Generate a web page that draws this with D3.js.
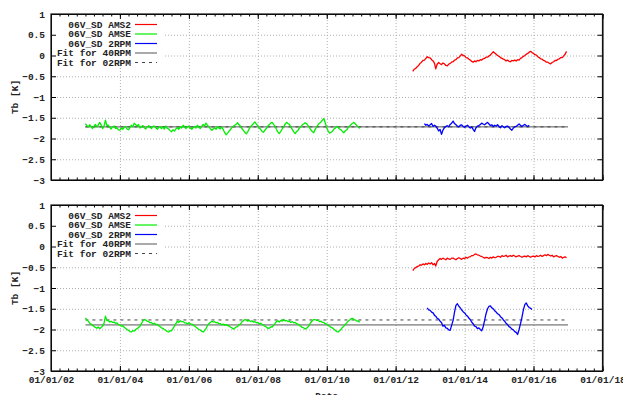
<!DOCTYPE html>
<html>
<head>
<meta charset="utf-8">
<script src="https://cdn.jsdelivr.net/npm/d3@7"></script>
<style>
  body { margin: 0; background: #fff; }
  text { font-family: "Liberation Mono", "DejaVu Sans Mono", monospace; font-weight: bold; }
</style>
</head>
<body>
<div id="chart"></div>
<script>
// tick values and labels
var yTickValues = [1, 0.5, 0, -0.5, -1, -1.5, -2, -2.5, -3];
var xTickYears = [2002, 2004, 2006, 2008, 2010, 2012, 2014, 2016, 2018];
var legendNames = ["06V_SD AMS2", "06V_SD AMSE", "06V_SD 2RPM", "Fit for 40RPM", "Fit for 02RPM"];

// two values per month (1st and 16th), first month given by the start strings
var amseStart = "2003-01-01";
var ams2Start = "2012-07-01";
var rpmStartTop = "2012-11-01";
var rpmStartBottom = "2012-12-01";

var amseTop = [
  -1.64, -1.69, -1.72, -1.67, -1.71, -1.76, -1.70, -1.66, -1.72, -1.68, -1.61, -1.67,
  -1.76, -1.71, -1.56, -1.69, -1.68, -1.73, -1.77, -1.72, -1.70, -1.76, -1.74, -1.79,
  -1.80, -1.75, -1.78, -1.73, -1.71, -1.77, -1.79, -1.74, -1.68, -1.72, -1.63, -1.67,
  -1.70, -1.66, -1.75, -1.71, -1.69, -1.74, -1.77, -1.72, -1.69, -1.73, -1.76, -1.71,
  -1.70, -1.74, -1.78, -1.73, -1.71, -1.76, -1.73, -1.77, -1.70, -1.75, -1.77, -1.81,
  -1.84, -1.79, -1.82, -1.77, -1.74, -1.78, -1.71, -1.75, -1.68, -1.72, -1.76, -1.72,
  -1.70, -1.75, -1.78, -1.73, -1.71, -1.75, -1.68, -1.72, -1.76, -1.71, -1.66, -1.70,
  -1.63, -1.68, -1.72, -1.76, -1.80, -1.77, -1.74, -1.78, -1.71, -1.75, -1.77, -1.72,
  -1.79, -1.86, -1.91, -1.87, -1.83, -1.79, -1.74, -1.71, -1.68, -1.66, -1.62, -1.67,
  -1.70, -1.76, -1.80, -1.85, -1.89, -1.84, -1.77, -1.72, -1.68, -1.64, -1.60, -1.65,
  -1.69, -1.75, -1.78, -1.83, -1.85, -1.80, -1.76, -1.70, -1.67, -1.63, -1.61, -1.66,
  -1.70, -1.78, -1.84, -1.88, -1.83, -1.77, -1.72, -1.66, -1.61, -1.64, -1.66, -1.72,
  -1.78, -1.84, -1.88, -1.83, -1.81, -1.75, -1.72, -1.67, -1.65, -1.62, -1.64, -1.69,
  -1.74, -1.79, -1.83, -1.86, -1.78, -1.72, -1.67, -1.63, -1.60, -1.56, -1.52, -1.62,
  -1.74, -1.82, -1.87, -1.85, -1.83, -1.78, -1.75, -1.71, -1.73, -1.77, -1.79, -1.83,
  -1.86, -1.82, -1.79, -1.74, -1.70, -1.66, -1.64, -1.61, -1.65, -1.69, -1.72, -1.76
];
var ams2Top = [
  -0.38, -0.33, -0.31, -0.27, -0.24, -0.19, -0.16, -0.12, -0.11, -0.07, -0.03, -0.05,
  -0.06, -0.10, -0.13, -0.19, -0.32, -0.21, -0.17, -0.20, -0.22, -0.18, -0.20, -0.24,
  -0.25, -0.21, -0.19, -0.16, -0.15, -0.11, -0.10, -0.06, -0.05, -0.01, 0.03, 0.00,
  -0.01, -0.05, -0.06, -0.09, -0.11, -0.14, -0.16, -0.13, -0.15, -0.12, -0.13, -0.10,
  -0.11, -0.08, -0.07, -0.04, -0.04, -0.01, 0.01, 0.05, 0.09, 0.06, 0.03, 0.00,
  -0.02, -0.05, -0.07, -0.09, -0.10, -0.13, -0.11, -0.14, -0.15, -0.12, -0.13, -0.11,
  -0.13, -0.10, -0.11, -0.07, -0.05, -0.02, 0.00, 0.03, 0.05, 0.08, 0.10, 0.07,
  0.05, 0.02, 0.01, -0.03, -0.05, -0.08, -0.09, -0.12, -0.13, -0.16, -0.16, -0.19,
  -0.20, -0.17, -0.15, -0.12, -0.12, -0.09, -0.08, -0.05, -0.05, -0.01, 0.03, 0.10
];
var rpmTop = [
  -1.64, -1.68, -1.66, -1.70,
  -1.67, -1.64, -1.71, -1.68, -1.70, -1.75, -1.82, -1.78, -1.90, -1.80, -1.74, -1.71,
  -1.69, -1.72, -1.66, -1.63, -1.58, -1.64, -1.67, -1.70, -1.72, -1.68, -1.67, -1.71,
  -1.73, -1.70, -1.68, -1.72, -1.75, -1.72, -1.78, -1.83, -1.74, -1.70, -1.69, -1.66,
  -1.63, -1.65, -1.67, -1.64, -1.61, -1.65, -1.69, -1.67, -1.71, -1.68, -1.70, -1.67,
  -1.71, -1.74, -1.69, -1.72, -1.74, -1.71, -1.70, -1.73, -1.77, -1.80, -1.75, -1.72,
  -1.71, -1.68, -1.65, -1.68, -1.71, -1.68, -1.66, -1.69, -1.71, -1.68
];

var amseBottom = [
  -1.72, -1.77, -1.80, -1.85, -1.87, -1.90, -1.92, -1.95, -1.97, -1.94, -1.98, -1.95,
  -1.92, -1.86, -1.68, -1.78, -1.79, -1.82, -1.80, -1.83, -1.82, -1.85, -1.84, -1.88,
  -1.89, -1.92, -1.91, -1.95, -1.97, -2.00, -2.02, -2.05, -2.06, -2.03, -2.04, -2.00,
  -1.98, -1.95, -1.92, -1.86, -1.79, -1.76, -1.77, -1.80, -1.81, -1.84, -1.83, -1.87,
  -1.85, -1.88, -1.88, -1.91, -1.93, -1.96, -1.97, -2.00, -2.02, -2.05, -2.06, -2.03,
  -2.03, -1.98, -1.92, -1.86, -1.80, -1.83, -1.79, -1.81, -1.81, -1.84, -1.84, -1.87,
  -1.84, -1.87, -1.87, -1.90, -1.91, -1.94, -1.97, -2.00, -2.01, -2.04, -2.06, -2.03,
  -1.98, -1.91, -1.86, -1.83, -1.80, -1.82, -1.81, -1.84, -1.83, -1.86, -1.86, -1.89,
  -1.87, -1.90, -1.88, -1.91, -1.91, -1.94, -1.96, -1.99, -1.97, -1.94, -1.93, -1.89,
  -1.87, -1.82, -1.79, -1.76, -1.77, -1.80, -1.78, -1.81, -1.79, -1.82, -1.81, -1.84,
  -1.83, -1.86, -1.85, -1.88, -1.89, -1.92, -1.94, -1.97, -1.97, -1.94, -1.94, -1.90,
  -1.86, -1.81, -1.79, -1.82, -1.78, -1.80, -1.76, -1.79, -1.78, -1.81, -1.80, -1.83,
  -1.81, -1.84, -1.83, -1.86, -1.87, -1.90, -1.92, -1.95, -1.96, -1.99, -1.97, -1.94,
  -1.89, -1.83, -1.79, -1.76, -1.76, -1.78, -1.78, -1.81, -1.80, -1.83, -1.83, -1.86,
  -1.87, -1.90, -1.92, -1.95, -1.96, -1.99, -2.02, -2.05, -2.06, -2.03, -2.00, -1.95,
  -1.92, -1.88, -1.84, -1.80, -1.77, -1.74, -1.73, -1.76, -1.77, -1.80, -1.79, -1.83
];
var ams2Bottom = [
  -0.58, -0.53, -0.51, -0.48, -0.47, -0.44, -0.45, -0.42, -0.44, -0.41, -0.43, -0.40,
  -0.42, -0.39, -0.44, -0.41, -0.47, -0.36, -0.32, -0.29, -0.31, -0.28, -0.30, -0.32,
  -0.28, -0.30, -0.31, -0.28, -0.28, -0.30, -0.32, -0.29, -0.27, -0.29, -0.31, -0.28,
  -0.29, -0.26, -0.28, -0.25, -0.25, -0.22, -0.22, -0.19, -0.18, -0.20, -0.21, -0.23,
  -0.24, -0.26, -0.28, -0.26, -0.27, -0.29, -0.26, -0.28, -0.25, -0.27, -0.26, -0.24,
  -0.24, -0.26, -0.22, -0.24, -0.23, -0.21, -0.25, -0.23, -0.22, -0.24, -0.21, -0.23,
  -0.25, -0.23, -0.22, -0.24, -0.26, -0.24, -0.23, -0.25, -0.22, -0.24, -0.26, -0.24,
  -0.23, -0.25, -0.22, -0.24, -0.23, -0.21, -0.24, -0.22, -0.20, -0.22, -0.19, -0.21,
  -0.23, -0.21, -0.25, -0.23, -0.22, -0.24, -0.26, -0.24, -0.28, -0.26, -0.25, -0.27
];
var rpmBottom = [
  -1.48, -1.53,
  -1.54, -1.58, -1.60, -1.66, -1.68, -1.73, -1.75, -1.80, -1.83, -1.92, -1.90, -1.96,
  -1.97, -2.01, -2.02, -1.90, -1.78, -1.58, -1.42, -1.38, -1.44, -1.48, -1.53, -1.57,
  -1.60, -1.65, -1.68, -1.73, -1.76, -1.82, -1.86, -1.92, -1.93, -1.98, -1.96, -2.00,
  -2.03, -1.94, -1.78, -1.62, -1.50, -1.44, -1.43, -1.48, -1.50, -1.55, -1.58, -1.62,
  -1.64, -1.69, -1.72, -1.77, -1.80, -1.85, -1.88, -1.93, -1.95, -1.99, -2.01, -2.05,
  -2.07, -2.12, -2.00, -1.86, -1.70, -1.52, -1.40, -1.36, -1.43, -1.47, -1.49, -1.52
];

// fit levels: [40RPM, 02RPM]
var fitTop = [-1.72, -1.72];
var fitBottom = [-1.89, -1.77];
var fitRange = ["2003-01-01", "2017-01-01"];

var w = 623, h = 395;
var left = 51, right = 602.5;
var seriesColors = ["#ff0000", "#00ee00", "#0000ff", "#555555", "#444444"];

var parse = d3.timeParse("%Y-%m-%d");

function semiMonthly(start, values) {
  var d0 = parse(start);
  return values.map(function (v, i) {
    var d = d3.timeMonth.offset(d0, Math.floor(i / 2));
    if (i % 2) d = d3.timeDay.offset(d, 15);
    return [d, v];
  });
}

var panels = [
  { top: 14, bottom: 180, labels: false,
    series: [semiMonthly(ams2Start, ams2Top), semiMonthly(amseStart, amseTop), semiMonthly(rpmStartTop, rpmTop)],
    fit: fitTop },
  { top: 205, bottom: 371, labels: true,
    series: [semiMonthly(ams2Start, ams2Bottom), semiMonthly(amseStart, amseBottom), semiMonthly(rpmStartBottom, rpmBottom)],
    fit: fitBottom }
];

var svg = d3.select("#chart").append("svg")
  .attr("width", w)
  .attr("height", h);

var x = d3.scaleTime()
  .domain([new Date(2002, 0, 1), new Date(2018, 0, 1)])
  .range([left, right]);

var xMajor = xTickYears.map(function (y) { return new Date(y, 0, 1); });
var xMinor = d3.timeMonth.every(3).range(new Date(2002, 0, 1), new Date(2018, 0, 2));
var fmt = d3.timeFormat("%m/%d/%y");

panels.forEach(function (p) {
  var y = d3.scaleLinear().domain([-3, 1]).range([p.bottom, p.top]);
  var g = svg.append("g");
  var ph = p.bottom - p.top;

  // grid
  g.append("g")
    .attr("class", "grid")
    .attr("transform", "translate(0," + p.bottom + ")")
    .call(d3.axisBottom(x).tickValues(xMajor.slice(1, -1)).tickSize(-ph).tickFormat(""));
  g.append("g")
    .attr("class", "grid")
    .attr("transform", "translate(" + left + ",0)")
    .call(d3.axisLeft(y).tickValues(yTickValues.slice(1, -1)).tickSize(-(right - left)).tickFormat(""));
  g.selectAll(".grid .domain").remove();
  g.selectAll(".grid line")
    .attr("stroke", "#b0b0b0")
    .attr("stroke-width", 1)
    .attr("stroke-dasharray", "1,2");

  // key background
  g.append("rect")
    .attr("x", left + 1)
    .attr("y", p.top + 2)
    .attr("width", 111)
    .attr("height", 51)
    .attr("fill", "#fff");

  // fit lines
  var fitX = fitRange.map(parse);
  var line = d3.line().x(function (d) { return x(d[0]); }).y(function (d) { return y(d[1]); });
  g.append("path")
    .datum(fitX.map(function (d) { return [d, p.fit[0]]; }))
    .attr("d", line)
    .attr("fill", "none")
    .attr("stroke", seriesColors[3])
    .attr("stroke-width", 1);
  g.append("path")
    .datum(fitX.map(function (d) { return [d, p.fit[1]]; }))
    .attr("d", line)
    .attr("fill", "none")
    .attr("stroke", seriesColors[4])
    .attr("stroke-width", 1)
    .attr("stroke-dasharray", "3,4");

  // data
  p.series.forEach(function (s, i) {
    g.append("path")
      .datum(s)
      .attr("d", line)
      .attr("fill", "none")
      .attr("stroke", seriesColors[i])
      .attr("stroke-width", 1.3)
      .attr("stroke-linejoin", "round");
  });

  // key
  legendNames.forEach(function (name, i) {
    var ly = p.top + 10.5 + i * 9.5;
    g.append("text")
      .attr("x", 131)
      .attr("y", ly)
      .attr("dy", "0.35em")
      .attr("text-anchor", "end")
      .style("font-size", "9.5px")
      .style("fill", "#222")
      .text(name);
    g.append("line")
      .attr("x1", 135).attr("x2", 157)
      .attr("y1", ly).attr("y2", ly)
      .attr("stroke", seriesColors[i])
      .attr("stroke-width", i < 3 ? 1.2 : 1)
      .attr("stroke-dasharray", i === 4 ? "3,4" : null);
  });

  // axes with inward ticks
  g.append("g")
    .attr("transform", "translate(0," + p.bottom + ")")
    .call(d3.axisBottom(x).tickValues(xMajor).tickSize(-5).tickSizeOuter(0).tickPadding(5)
      .tickFormat(p.labels ? fmt : ""));
  g.append("g")
    .attr("transform", "translate(0," + p.bottom + ")")
    .call(d3.axisBottom(x).tickValues(xMinor).tickSize(-2.5).tickSizeOuter(0).tickFormat(""));
  g.append("g")
    .attr("transform", "translate(0," + p.top + ")")
    .call(d3.axisTop(x).tickValues(xMajor).tickSize(-5).tickSizeOuter(0).tickFormat(""));
  g.append("g")
    .attr("transform", "translate(0," + p.top + ")")
    .call(d3.axisTop(x).tickValues(xMinor).tickSize(-2.5).tickSizeOuter(0).tickFormat(""));
  g.append("g")
    .attr("transform", "translate(" + left + ",0)")
    .call(d3.axisLeft(y).tickValues(yTickValues).tickSize(-5).tickSizeOuter(0).tickPadding(6)
      .tickFormat(function (d) { return d3.format("")(d); }));
  g.append("g")
    .attr("transform", "translate(" + right + ",0)")
    .call(d3.axisRight(y).tickValues(yTickValues).tickSize(-5).tickSizeOuter(0).tickFormat(""));

  g.selectAll(".tick text")
    .style("font-size", "9.5px")
    .style("fill", "#222")
    .style("font-family", "\"Liberation Mono\", monospace")
    .style("font-weight", "bold");
  g.selectAll(".domain").attr("stroke", "#000");

  g.append("rect")
    .attr("x", left)
    .attr("y", p.top)
    .attr("width", right - left)
    .attr("height", ph)
    .attr("fill", "none")
    .attr("stroke", "#111")
    .attr("stroke-width", 1.2);

  g.append("text")
    .attr("transform", "translate(15," + (p.top + ph / 2) + ") rotate(-90)")
    .attr("text-anchor", "middle")
    .attr("dy", "0.35em")
    .style("font-size", "9.5px")
    .style("fill", "#222")
    .text("Tb [K]");
});

svg.append("text")
  .attr("x", (left + right) / 2)
  .attr("y", 399)
  .attr("text-anchor", "middle")
  .style("font-size", "9.5px")
  .style("fill", "#222")
  .text("Date");
</script>
</body>
</html>
